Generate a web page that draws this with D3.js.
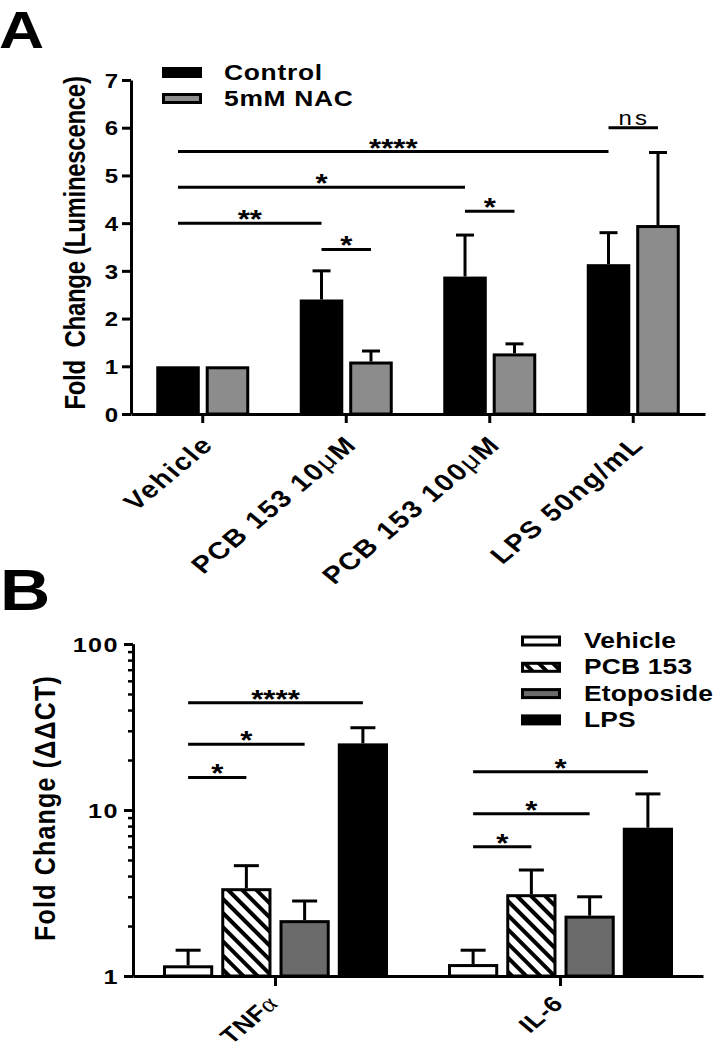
<!DOCTYPE html>
<html><head><meta charset="utf-8">
<script src="https://cdn.jsdelivr.net/npm/d3@7"></script>
<style>
body{margin:0;background:#fff}
svg{display:block}
text{font-family:"Liberation Sans",Arial,Helvetica,sans-serif;fill:#000}
</style>
</head><body>
<svg id="c" width="717" height="1050"></svg>
<script>
// ---------- DATA: panel A ----------
const categoriesA = ["Vehicle", "PCB 153 10μM", "PCB 153 100μM", "LPS 50ng/mL"];
const seriesA = ["Control", "5mM NAC"];
const controlMeanA = [1.0, 2.40, 2.88, 3.14];
const controlSemA  = [0, 0.60, 0.87, 0.66];
const nacMeanA     = [1.0, 1.10, 1.27, 3.96];
const nacSemA      = [0, 0.22, 0.20, 1.52];
const yTicksA = [0, 1, 2, 3, 4, 5, 6, 7];
const sigA = [
  {from: "Vehicle", fromS: "Control", to: "PCB 153 10μM", toS: "Control", y: 4.0, label: "**"},
  {from: "Vehicle", fromS: "Control", to: "PCB 153 100μM", toS: "Control", y: 4.75, label: "*"},
  {from: "Vehicle", fromS: "Control", to: "LPS 50ng/mL", toS: "Control", y: 5.5, label: "****"},
  {from: "PCB 153 10μM", fromS: "Control", to: "PCB 153 10μM", toS: "5mM NAC", y: 3.45, label: "*"},
  {from: "PCB 153 100μM", fromS: "Control", to: "PCB 153 100μM", toS: "5mM NAC", y: 4.25, label: "*"},
  {from: "LPS 50ng/mL", fromS: "Control", to: "LPS 50ng/mL", toS: "5mM NAC", y: 6.0, label: "ns"}
];

// ---------- DATA: panel B ----------
const genesB = ["TNFα", "IL-6"];
const treatmentsB = ["Vehicle", "PCB 153", "Etoposide", "LPS"];
const tnfMeanB  = [1.16, 3.38, 2.17, 25.2];
const tnfUpperB = [1.43, 4.62, 2.83, 31.3];
const il6MeanB  = [1.18, 3.11, 2.31, 7.82];
const il6UpperB = [1.43, 4.35, 3.00, 12.5];
const yTicksB = [1, 10, 100];
const sigB = [
  {gene: "TNFα", from: "Vehicle", to: "PCB 153", y: 15.7, label: "*"},
  {gene: "TNFα", from: "Vehicle", to: "Etoposide", y: 24.9, label: "*"},
  {gene: "TNFα", from: "Vehicle", to: "LPS", y: 44.3, label: "****"},
  {gene: "IL-6", from: "Vehicle", to: "PCB 153", y: 6.0, label: "*"},
  {gene: "IL-6", from: "Vehicle", to: "Etoposide", y: 9.5, label: "*"},
  {gene: "IL-6", from: "Vehicle", to: "LPS", y: 17.0, label: "*"}
];

// ---------- helpers ----------
const K = 1.2; // horizontal widening of lettering seen in the figure
const svg = d3.select("#c");
function richText(sel, str) {
  sel.text(null);
  str.split(/([μα])/).filter(s => s.length).forEach(part => {
    const t = sel.append("tspan").text(part);
    if (part === "μ") t.attr("font-weight", "normal");
    if (part === "α") t.attr("font-weight", "normal").style("font-family", '"Liberation Serif","DejaVu Serif",serif').attr("font-size", 23);
  });
}
function label(g, x, y, str, o) {
  o = o || {};
  return g.append("text")
    .attr("transform", `translate(${x},${y}) scale(${K},1)` + (o.rot ? ` rotate(${o.rot})` : ""))
    .attr("text-anchor", o.anchor || "start")
    .attr("font-size", o.size || 22)
    .attr("font-weight", o.weight || "bold")
    .style("letter-spacing", (o.ls || 0) + "px")
    .style("white-space", "pre")
    .text(str);
}
function styleAxis(g) {
  g.attr("font-family", null).attr("font-size", null);
  g.select(".domain").attr("stroke", "#000").attr("stroke-width", 3);
  g.selectAll(".tick line").attr("stroke", "#000").attr("stroke-width", 3);
}
function sigMark(g, x1, x2, y, lab) {
  g.append("line").attr("x1", x1).attr("x2", x2).attr("y1", y).attr("y2", y)
    .attr("stroke", "#000").attr("stroke-width", 3);
  const mid = (x1 + x2) / 2;
  if (lab === "ns") {
    label(g, mid + 1, y - 3, lab, {anchor: "middle", size: 20, weight: "normal", ls: 2.5});
  } else {
    label(g, mid, y + 5, lab, {anchor: "middle", size: 26, weight: "bold", ls: 0});
  }
}

// ---------- PANEL A ----------
const gA = svg.append("g");
const xA = d3.scaleBand().domain(categoriesA).range([131, 705]);
const subA = d3.scaleBand().domain(seriesA).range([-46.5, 46.5]).paddingInner(0.12);
const yA = d3.scaleLinear().domain([0, 7]).range([414, 80]);
const colorA = d3.scaleOrdinal().domain(seriesA).range(["#000000", "#8c8c8c"]);
const meansA = {"Control": controlMeanA, "5mM NAC": nacMeanA};
const semsA = {"Control": controlSemA, "5mM NAC": nacSemA};
const rowsA = seriesA.flatMap(s => categoriesA.map((c, i) => ({cat: c, series: s, mean: meansA[s][i], sem: semsA[s][i]})));
const cxA = (c, s) => xA(c) + xA.bandwidth() / 2 + subA(s) + subA.bandwidth() / 2;

const errA = gA.append("g").attr("stroke", "#000").attr("stroke-width", 3);
rowsA.filter(d => d.sem > 0).forEach(d => {
  const x = cxA(d.cat, d.series), yt = yA(d.mean + d.sem);
  errA.append("line").attr("x1", x).attr("x2", x).attr("y1", yA(d.mean)).attr("y2", yt);
  errA.append("line").attr("x1", x - 9).attr("x2", x + 9).attr("y1", yt).attr("y2", yt);
});
gA.append("g").selectAll("rect").data(rowsA).join("rect")
  .attr("x", d => cxA(d.cat, d.series) - subA.bandwidth() / 2 + 1.5)
  .attr("width", subA.bandwidth() - 3)
  .attr("y", d => yA(d.mean) + 1.5)
  .attr("height", d => yA(0) - yA(d.mean) - 1.5)
  .attr("fill", d => colorA(d.series)).attr("stroke", "#000").attr("stroke-width", 3);

const axXA = gA.append("g").attr("transform", `translate(0,${yA(0)})`)
  .call(d3.axisBottom(xA).tickSize(9).tickSizeOuter(0));
styleAxis(axXA);
axXA.selectAll(".tick text")
  .attr("x", 0).attr("y", 0).attr("dy", 0)
  .attr("transform", `translate(12,32) scale(${K},1) rotate(-45)`)
  .attr("text-anchor", "end").attr("font-size", 24).attr("font-weight", "bold")
  .style("letter-spacing", "1.5px")
  .each(function(d) { richText(d3.select(this), d); });

const axYA = gA.append("g").attr("transform", `translate(${xA.range()[0]},0)`)
  .call(d3.axisLeft(yA).tickValues(yTicksA).tickSize(9).tickSizeOuter(0).tickFormat(d3.format("d")));
styleAxis(axYA);
axYA.selectAll(".tick text").attr("x", 0).attr("transform", `translate(-13,0) scale(${K},1)`)
  .attr("font-size", 20).attr("font-weight", "bold").attr("dy", "0.36em");

label(gA, 85, 243, "Fold  Change (Luminescence)", {anchor: "middle", size: 24, weight: "bold", rot: -90, ls: -0.3});

const sgA = gA.append("g");
sigA.forEach(s => sigMark(sgA, cxA(s.from, s.fromS), cxA(s.to, s.toS), yA(s.y), s.label));

const legA = gA.append("g");
seriesA.forEach((s, i) => {
  const y0 = 67 + i * 26;
  legA.append("rect").attr("x", 163.5).attr("y", y0 + 1.5).attr("width", 37).attr("height", 8)
    .attr("fill", colorA(s)).attr("stroke", "#000").attr("stroke-width", 3);
  label(legA, 224, y0 + 13, s, {size: 22, ls: 0.6});
});
label(gA, -1, 48, "A", {size: 52});

// ---------- PANEL B ----------
const defs = svg.append("defs");
const pat = defs.append("pattern").attr("id", "hatch").attr("patternUnits", "userSpaceOnUse")
  .attr("width", 10).attr("height", 10).attr("patternTransform", "rotate(-45)");
pat.append("rect").attr("width", 10).attr("height", 10).attr("fill", "#fff");
pat.append("rect").attr("width", 4).attr("height", 10).attr("fill", "#000");

const gB = svg.append("g");
const xB = d3.scaleBand().domain(genesB).range([133, 703]);
const subB = d3.scaleBand().domain(treatmentsB).range([-112.5, 112.5]).paddingInner(0.138);
const yB = d3.scaleLog().domain([1, 100]).range([976, 644]);
const fillB = d3.scaleOrdinal().domain(treatmentsB).range(["#ffffff", "url(#hatch)", "#6b6b6b", "#000000"]);
const meansB = {"TNFα": tnfMeanB, "IL-6": il6MeanB};
const uppersB = {"TNFα": tnfUpperB, "IL-6": il6UpperB};
const rowsB = genesB.flatMap(g => treatmentsB.map((t, i) => ({gene: g, tr: t, mean: meansB[g][i], upper: uppersB[g][i]})));
const cxB = (g, t) => xB(g) + xB.bandwidth() / 2 + subB(t) + subB.bandwidth() / 2;

const errB = gB.append("g").attr("stroke", "#000").attr("stroke-width", 3);
rowsB.forEach(d => {
  const x = cxB(d.gene, d.tr), yt = yB(d.upper);
  errB.append("line").attr("x1", x).attr("x2", x).attr("y1", yB(d.mean)).attr("y2", yt);
  errB.append("line").attr("x1", x - 12.5).attr("x2", x + 12.5).attr("y1", yt).attr("y2", yt);
});
gB.append("g").selectAll("rect").data(rowsB).join("rect")
  .attr("x", d => cxB(d.gene, d.tr) - subB.bandwidth() / 2 + 1.5)
  .attr("width", subB.bandwidth() - 3)
  .attr("y", d => yB(d.mean) + 1.5)
  .attr("height", d => yB(1) - yB(d.mean) - 1.5)
  .attr("fill", d => fillB(d.tr)).attr("stroke", "#000").attr("stroke-width", 3);

const axXB = gB.append("g").attr("transform", `translate(0,${yB(1)})`)
  .call(d3.axisBottom(xB).tickSize(10).tickSizeOuter(0));
styleAxis(axXB);
axXB.selectAll(".tick text")
  .attr("x", 0).attr("y", 0).attr("dy", 0)
  .attr("transform", `translate(4,29) scale(${K},1) rotate(-45)`)
  .attr("text-anchor", "end").attr("font-size", 22).attr("font-weight", "bold")
  .style("letter-spacing", "0.5px")
  .each(function(d) { richText(d3.select(this), d); });

const minorB = yB.ticks().filter(v => !yTicksB.includes(v));
const axYBm = gB.append("g").attr("transform", `translate(${xB.range()[0]},0)`)
  .call(d3.axisLeft(yB).tickValues(minorB).tickSize(5).tickSizeOuter(0).tickFormat(""));
styleAxis(axYBm);
axYBm.selectAll(".tick line").attr("stroke-width", 2.5);
const axYB = gB.append("g").attr("transform", `translate(${xB.range()[0]},0)`)
  .call(d3.axisLeft(yB).tickValues(yTicksB).tickSize(9).tickSizeOuter(0).tickFormat(d3.format("d")));
styleAxis(axYB);
axYB.selectAll(".tick text").attr("x", 0).attr("transform", `translate(-14,0) scale(${K},1)`)
  .attr("font-size", 21).attr("font-weight", "bold").attr("dy", "0.36em")
  .style("letter-spacing", "1.2px");

label(gB, 55, 808, "Fold Change (ΔΔCT)", {anchor: "middle", size: 25, weight: "bold", rot: -90, ls: 1.2});

const sgB = gB.append("g");
sigB.forEach(s => sigMark(sgB, cxB(s.gene, s.from), cxB(s.gene, s.to), yB(s.y), s.label));

const legB = gB.append("g");
treatmentsB.forEach((t, i) => {
  const y0 = 635.5 + i * 26.3;
  legB.append("rect").attr("x", 522.5).attr("y", y0 + 1.5).attr("width", 37).attr("height", 8)
    .attr("fill", fillB(t)).attr("stroke", "#000").attr("stroke-width", 3);
  label(legB, 584, y0 + 12.5, t, {size: 22, ls: 0.15});
});
label(gB, 0, 610, "B", {size: 58});
</script>
</body></html>
